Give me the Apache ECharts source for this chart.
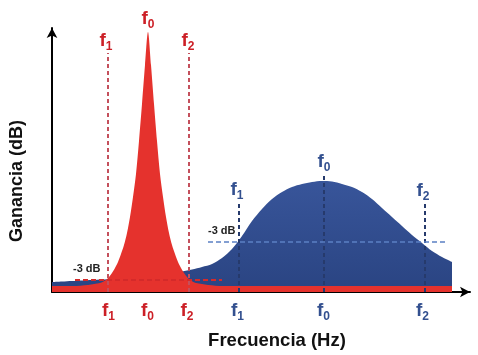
<!DOCTYPE html>
<html>
<head>
<meta charset="utf-8">
<script src="https://cdn.jsdelivr.net/npm/echarts@6/dist/echarts.min.js"></script>
<style>html,body{margin:0;padding:0;background:#fff;}#c{width:478px;height:355px;}</style>
</head>
<body>
<div id="c"></div>
<script>
// Narrow-band (red) response: frequency (arbitrary units) and gain
const redFreq = [0, 21, 36, 42, 48, 54, 57, 60, 63, 66, 69, 72, 75, 78, 81, 84, 87, 90, 93, 96, 99, 102, 105, 108, 111, 114, 117, 120, 123, 126, 129, 132, 135, 138, 144, 150, 156, 171, 400];
const redGain = [6, 6, 7, 8, 9, 12, 15, 19, 24, 30, 38, 47, 59, 75, 95, 118, 151, 188, 227, 260, 227, 188, 151, 118, 95, 75, 59, 47, 38, 30, 24, 19, 15, 12, 9, 8, 7, 6, 6];
// Wide-band (blue) response
const blueFreq = [0, 10, 20, 30, 40, 50, 60, 70, 80, 90, 100, 110, 120, 130, 140, 150, 160, 170, 180, 190, 200, 210, 220, 230, 240, 250, 260, 270, 280, 290, 300, 310, 320, 330, 340, 350, 360, 370, 380, 390, 400];
const blueGain = [10, 10.5, 11, 11.5, 12, 12.5, 13, 14, 14.5, 15, 16, 17.5, 19, 20.5, 22.5, 25, 28, 34, 43, 56, 71, 83, 93, 100, 105, 108, 110, 111, 110.5, 108, 105, 100, 93, 84, 75, 66, 57, 49, 41, 35, 30];
// Marked frequencies f1, f0, f2
const redMarks = [56, 96, 137];
const blueMarks = [187, 272, 373];
// -3 dB levels and their horizontal extents
const redMinus3 = 12, redMinus3From = 23, redMinus3To = 170;
const blueMinus3 = 50, blueMinus3From = 156, blueMinus3To = 395;
// Bottom tick labels
const tickValues = [56.5, 95.5, 135, 185.5, 271.5, 370.5];
const tickSubs = ['1', '0', '2', '1', '0', '2'];
const tickGroup = ['r', 'r', 'r', 'b', 'b', 'b'];

const RED = '#e5322d';
const RED_TXT = '#cc1f26', BLUE_TXT = '#33508f';
const FONT = '"Liberation Sans", Arial, sans-serif';

function rich(color) {
  return {
    f: {fontSize: 19, lineHeight: 24, fontWeight: 'bold', color: color, fontFamily: FONT},
    s: {fontSize: 12, lineHeight: 12, fontWeight: 'bold', color: color, fontFamily: FONT, verticalAlign: 'bottom'}
  };
}
const richAll = {
  rf: rich(RED_TXT).f, rs: rich(RED_TXT).s,
  bf: rich(BLUE_TXT).f, bs: rich(BLUE_TXT).s
};
function fl(sub) { return '{f|f}{s|' + sub + '}'; }

const zip = (a, b) => a.map((v, i) => [v, b[i]]);

const redVLine = {type: [4, 3], color: '#c4505c', width: 2};
const blueVLine = {type: [4, 3], color: '#263a6c', width: 2};

function vLine(x, top, sub, color, lineStyle, offX) {
  return [
    {coord: [x, 0], lineStyle: lineStyle},
    {coord: [x, top], label: {show: true, position: 'end', distance: 0, offset: [offX || 0, 0],
      formatter: fl(sub), rich: rich(color)}}
  ];
}

const option = {
  animation: false,
  grid: {left: 52, right: 8, top: 28, bottom: 63},
  xAxis: {
    type: 'value', min: 0, max: 418,
    axisLine: {show: true, onZero: true, lineStyle: {color: '#000', width: 2}, symbol: ['none', 'arrow'], symbolSize: [8, 10]},
    axisTick: {show: false},
    splitLine: {show: false},
    axisLabel: {
      show: true, margin: 7,
      customValues: tickValues,
      formatter: function (v) {
        const i = tickValues.indexOf(v);
        if (i < 0) return '';
        const g = tickGroup[i];
        return '{' + g + 'f|f}{' + g + 's|' + tickSubs[i] + '}';
      },
      rich: richAll
    }
  },
  yAxis: {
    type: 'value', min: 0, max: 264,
    axisLine: {show: true, lineStyle: {color: '#000', width: 2}, symbol: ['none', 'arrow'], symbolSize: [8, 10]},
    axisTick: {show: false}, axisLabel: {show: false}, splitLine: {show: false}
  },
  series: [
    {
      type: 'line', name: 'wide', data: zip(blueFreq, blueGain),
      smooth: 0.3, symbol: 'none',
      lineStyle: {width: 0},
      areaStyle: {color: new echarts.graphic.LinearGradient(0, 0, 0, 1, [{offset: 0, color: '#38559a'}, {offset: 1, color: '#2a4482'}]), opacity: 1},
      z: 2,
      markLine: {
        silent: true, symbol: ['none', 'none'], animation: false,
        data: [
          vLine(blueMarks[0], 90, '1', BLUE_TXT, blueVLine, -2),
          vLine(blueMarks[1], 118, '0', BLUE_TXT, blueVLine, 0),
          vLine(blueMarks[2], 89, '2', BLUE_TXT, blueVLine, -2),
          [
            {coord: [blueMinus3From, blueMinus3], lineStyle: {type: [5, 3], color: '#5b80c4', width: 1.6}},
            {coord: [blueMinus3To, blueMinus3], label: {show: true, position: 'insideStartTop', distance: 6, offset: [-6, 0],
              formatter: '-3 dB', color: '#222', fontSize: 11, fontWeight: 'bold', fontFamily: FONT}}
          ]
        ]
      }
    },
    {
      type: 'line', name: 'narrow', data: zip(redFreq, redGain),
      smooth: 0.3, symbol: 'none',
      lineStyle: {width: 0},
      areaStyle: {color: RED, opacity: 1},
      z: 3,
      markPoint: {
        silent: true, symbol: 'circle', symbolSize: 0,
        data: [{coord: [redMarks[1], 260], label: {show: true, position: 'top', distance: 1,
          formatter: fl('0'), rich: rich(RED_TXT)}}]
      },
      markLine: {
        silent: true, symbol: ['none', 'none'], animation: false,
        data: [
          vLine(redMarks[0], 239, '1', RED_TXT, redVLine, -2),
          vLine(redMarks[2], 239, '2', RED_TXT, redVLine, -1),
          [
            {coord: [redMinus3From, redMinus3], lineStyle: {type: [5, 3], color: '#d42a2a', width: 2}},
            {coord: [redMinus3To, redMinus3], label: {show: true, position: 'insideStartTop', distance: 6, offset: [-8, 0],
              formatter: '-3 dB', color: '#222', fontSize: 11, fontWeight: 'bold', fontFamily: FONT}}
          ]
        ]
      }
    }
  ],
  graphic: [
    {type: 'text', x: 277, y: 341, style: {text: 'Frecuencia (Hz)', fontSize: 18.5, fontWeight: 'bold', fontFamily: FONT, fill: '#111', align: 'center', verticalAlign: 'middle'}},
    {type: 'text', x: 17, y: 181, rotation: Math.PI / 2, style: {text: 'Ganancia (dB)', fontSize: 18, fontWeight: 'bold', fontFamily: FONT, fill: '#111', align: 'center', verticalAlign: 'middle'}}
  ]
};

const chart = echarts.init(document.getElementById('c'), null, {renderer: 'canvas'});
chart.setOption(option);
</script>
</body>
</html>
